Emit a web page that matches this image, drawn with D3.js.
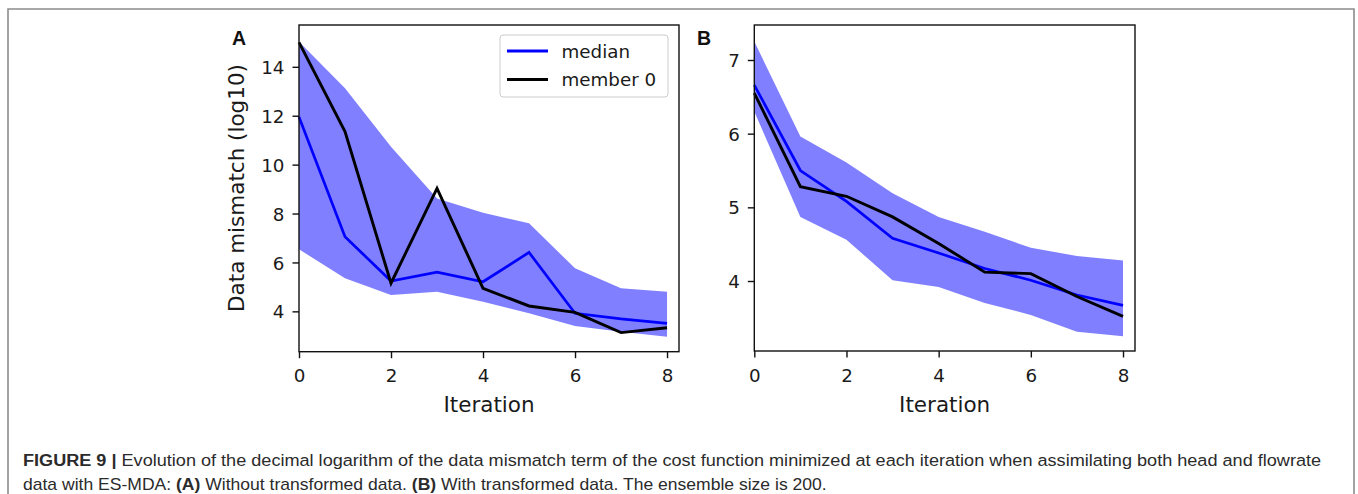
<!DOCTYPE html>
<html>
<head>
<meta charset="utf-8">
<script src="https://cdn.jsdelivr.net/npm/d3@7"></script>
<style>
  html, body { margin: 0; padding: 0; background: #fff; }
  svg { display: block; }
</style>
</head>
<body>
<div id="chart"></div>
<script>
const iterations = [0, 1, 2, 3, 4, 5, 6, 7, 8];

// panel A: without transformed data
const medianA = [11.95, 7.05, 5.24, 5.6, 5.21, 6.41, 3.92, 3.69, 3.51];
const memberA = [15.0, 11.35, 5.15, 9.03, 4.94, 4.22, 3.96, 3.13, 3.33];
const upperA = [15.03, 13.12, 10.73, 8.62, 8.03, 7.6, 5.76, 4.94, 4.8];
const lowerA = [6.54, 5.35, 4.67, 4.8, 4.39, 3.92, 3.4, 3.17, 2.96];

// panel B: with transformed data
const medianB = [6.66, 5.5, 5.08, 4.58, 4.38, 4.17, 4.01, 3.81, 3.67];
const memberB = [6.55, 5.28, 5.15, 4.87, 4.51, 4.12, 4.1, 3.79, 3.52];
const upperB = [7.25, 5.96, 5.61, 5.19, 4.87, 4.67, 4.45, 4.34, 4.28];
const lowerB = [6.3, 4.87, 4.56, 4.01, 3.92, 3.7, 3.54, 3.31, 3.25];

const xTicks = [0, 2, 4, 6, 8];
const yTicksA = [4, 6, 8, 10, 12, 14];
const yTicksB = [4, 5, 6, 7];

const W = 1358, H = 494;
const tickFont = "DejaVu Sans, sans-serif";
const tickSize = 18.3;

const svg = d3.select("#chart").append("svg")
    .attr("width", W)
    .attr("height", H);

// outer figure frame (open at the bottom)
svg.append("path")
    .attr("d", `M8,${H + 5} V9 H1354 V${H + 5}`)
    .attr("fill", "none")
    .attr("stroke", "#8c8c8c")
    .attr("stroke-width", 1.6);

function drawPanel(opt) {
    const x = d3.scaleLinear().domain([0, 8.26]).range([opt.left, opt.right]);
    const y = d3.scaleLinear().domain(opt.yDomain).range([opt.bottom, opt.top]);
    const g = svg.append("g");

    const area = d3.area()
        .x((d, i) => x(iterations[i]))
        .y0((d, i) => y(opt.lower[i]))
        .y1((d, i) => y(opt.upper[i]));
    g.append("path")
        .datum(opt.upper)
        .attr("d", area)
        .attr("fill", "#0000ff")
        .attr("fill-opacity", 0.5);

    const line = d3.line()
        .x((d, i) => x(iterations[i]))
        .y(d => y(d));
    g.append("path")
        .datum(opt.median)
        .attr("d", line)
        .attr("fill", "none")
        .attr("stroke", "#0000ff")
        .attr("stroke-width", 2.7);
    g.append("path")
        .datum(opt.member)
        .attr("d", line)
        .attr("fill", "none")
        .attr("stroke", "#000")
        .attr("stroke-width", 2.9);

    // spines
    g.append("rect")
        .attr("x", opt.left)
        .attr("y", opt.top)
        .attr("width", opt.right - opt.left)
        .attr("height", opt.bottom - opt.top)
        .attr("fill", "none")
        .attr("stroke", "#111")
        .attr("stroke-width", 1.4);

    const xAxis = g.append("g")
        .attr("transform", `translate(0,${opt.bottom})`)
        .call(d3.axisBottom(x).tickValues(xTicks).tickSize(6.5).tickPadding(4).tickFormat(d3.format("d")));
    const yAxis = g.append("g")
        .attr("transform", `translate(${opt.left},0)`)
        .call(d3.axisLeft(y).tickValues(opt.yTicks).tickSize(6.5).tickPadding(8).tickFormat(d3.format("d")));

    [xAxis, yAxis].forEach(ax => {
        ax.select(".domain").remove();
        ax.selectAll(".tick line").attr("stroke", "#111").attr("stroke-width", 1.4);
        ax.selectAll(".tick text")
            .attr("fill", "#1a1a1a")
            .style("font-family", tickFont)
            .style("font-size", tickSize + "px");
    });
    xAxis.selectAll(".tick text").attr("dy", null).attr("y", 30.5);
    yAxis.selectAll(".tick text").attr("dy", "0.36em");

    g.append("text")
        .attr("x", (opt.left + opt.right) / 2)
        .attr("y", 411.5)
        .attr("text-anchor", "middle")
        .attr("fill", "#1a1a1a")
        .style("font-family", tickFont)
        .style("font-size", "21.5px")
        .text("Iteration");

    g.append("text")
        .attr("x", opt.labelX)
        .attr("y", 44.5)
        .attr("fill", "#111")
        .style("font-family", "Liberation Sans, Arial, sans-serif")
        .style("font-weight", "bold")
        .style("font-size", "19.5px")
        .text(opt.label);

    return {x, y, g};
}

const panelA = drawPanel({
    left: 299, right: 679, top: 25, bottom: 351.7,
    yDomain: [2.35, 15.71], yTicks: yTicksA,
    median: medianA, member: memberA, upper: upperA, lower: lowerA,
    label: "A", labelX: 232
});

const panelB = drawPanel({
    left: 754.3, right: 1135, top: 25, bottom: 351,
    yDomain: [3.05, 7.475], yTicks: yTicksB,
    median: medianB, member: memberB, upper: upperB, lower: lowerB,
    label: "B", labelX: 697
});

// y axis title (panel A only)
svg.append("text")
    .attr("transform", "translate(243.5,188) rotate(-90)")
    .attr("text-anchor", "middle")
    .attr("fill", "#1a1a1a")
    .style("font-family", tickFont)
    .style("font-size", "21.5px")
    .text("Data mismatch (log10)");

// legend
const legend = svg.append("g");
legend.append("rect")
    .attr("x", 500).attr("y", 35)
    .attr("width", 168).attr("height", 62)
    .attr("rx", 3)
    .attr("fill", "#fff").attr("fill-opacity", 0.8)
    .attr("stroke", "#cccccc").attr("stroke-width", 1);
const legendItems = [["median", "#0000ff"], ["member 0", "#000"]];
legendItems.forEach((d, i) => {
    const ly = 51 + i * 28.5;
    legend.append("line")
        .attr("x1", 507).attr("x2", 548)
        .attr("y1", ly).attr("y2", ly)
        .attr("stroke", d[1]).attr("stroke-width", 2.8);
    legend.append("text")
        .attr("x", 561.5).attr("y", ly + 6.6)
        .attr("fill", "#1a1a1a")
        .style("font-family", tickFont)
        .style("font-size", tickSize + "px")
        .text(d[0]);
});

// caption
const captionLines = [
    {parts: [["FIGURE 9 | ", true], ["Evolution of the decimal logarithm of the data mismatch term of the cost function minimized at each iteration when assimilating both head and flowrate", false]], y: 465.5, width: 1299},
    {parts: [["data with ES-MDA: ", false], ["(A)", true], [" Without transformed data. ", false], ["(B)", true], [" With transformed data. The ensemble size is 200.", false]], y: 489.5, width: 804}
];
captionLines.forEach(line => {
    const g = svg.append("g");
    const t = g.append("text")
        .attr("x", 0).attr("y", 0)
        .attr("fill", "#2b2b2b")
        .style("font-family", "Liberation Sans Narrow, Liberation Sans, Arial, sans-serif")
        .style("font-size", "17px");
    line.parts.forEach(p => {
        t.append("tspan")
            .style("font-weight", p[1] ? "bold" : "normal")
            .text(p[0]);
    });
    const len = t.node().getComputedTextLength();
    g.attr("transform", `translate(23,${line.y}) scale(${line.width / len},1)`);
});
</script>
</body>
</html>
